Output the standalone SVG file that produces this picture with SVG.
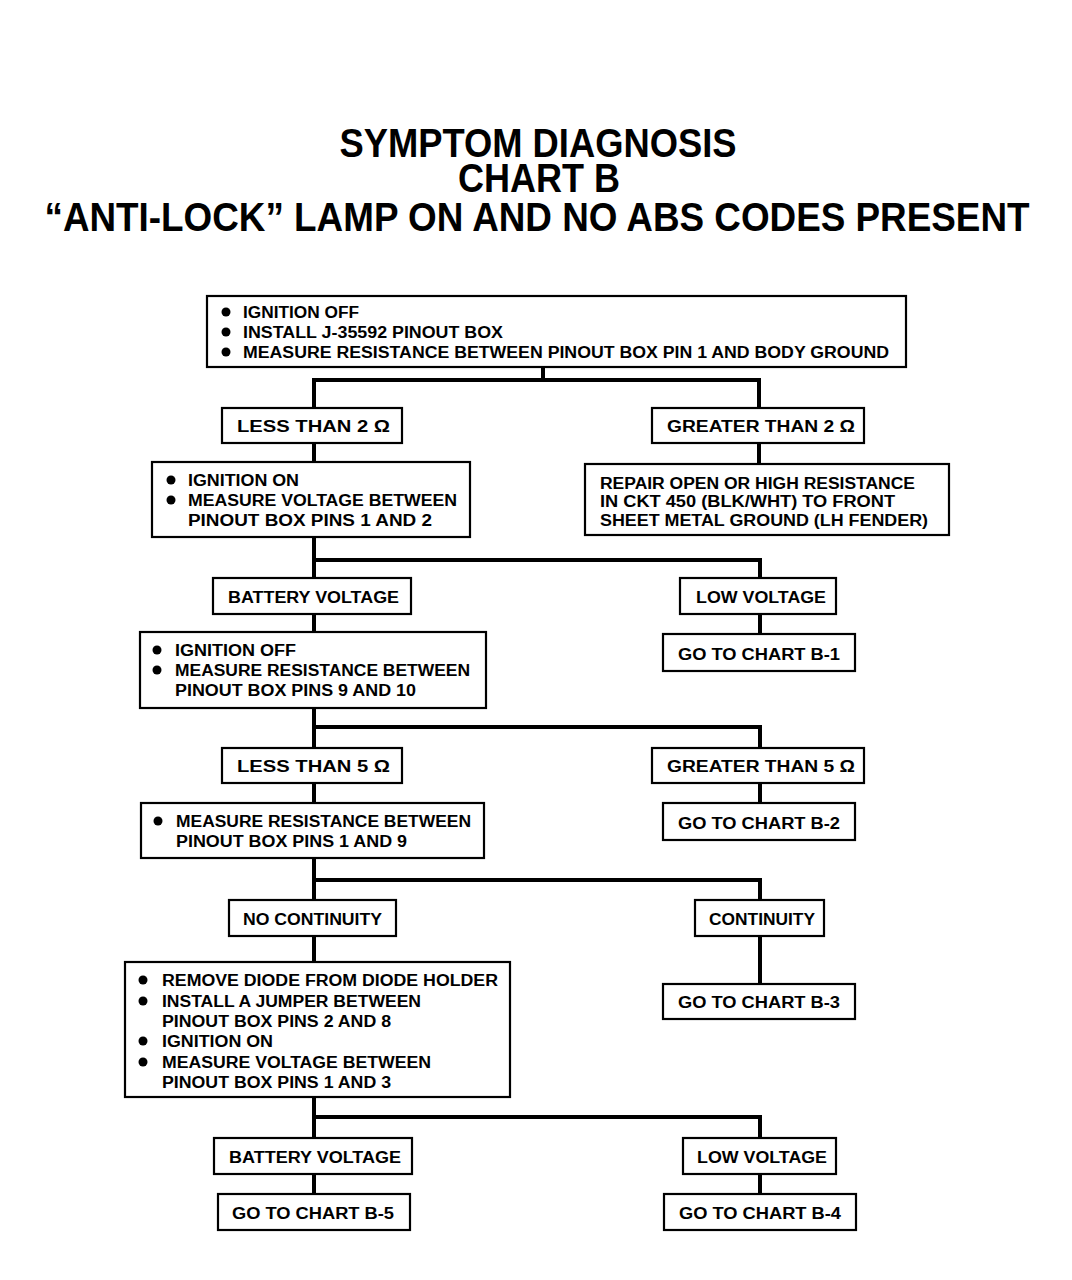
<svg xmlns="http://www.w3.org/2000/svg" width="1072" height="1280" viewBox="0 0 1072 1280">
<style>
.bg{fill:#fff}
.box{fill:#fff;stroke:#000;stroke-width:2.2}
.t{font-family:"Liberation Sans",Arial,sans-serif;font-weight:bold;font-size:16px;fill:#000}
.title{font-family:"Liberation Sans",Arial,sans-serif;font-weight:bold;font-size:40px;fill:#000;text-anchor:middle}
.conn{fill:none;stroke:#000;stroke-width:4;stroke-linejoin:miter}
.b{fill:#000}
</style>
<rect class="bg" x="0" y="0" width="1072" height="1280"/>
<g id="title">
<text class="title" x="538" y="157" textLength="397" lengthAdjust="spacingAndGlyphs">SYMPTOM DIAGNOSIS</text>
<text class="title" x="539" y="192" textLength="162" lengthAdjust="spacingAndGlyphs">CHART B</text>
<text class="title" x="537" y="231" textLength="985" lengthAdjust="spacingAndGlyphs">“ANTI-LOCK” LAMP ON AND NO ABS CODES PRESENT</text>
</g>
<g id="connectors">
<path class="conn" d="M543 367 V380 M314 408 V380 H759 V408"/>
<path class="conn" d="M314 443 V462 M759 443 V464"/>
<path class="conn" d="M314 537 V578 M314 560 H760 V578"/>
<path class="conn" d="M760 614 V634 M314 614 V632"/>
<path class="conn" d="M314 708 V748 M314 727 H760 V748"/>
<path class="conn" d="M314 783 V803 M760 783 V803"/>
<path class="conn" d="M314 858 V900 M314 880 H760 V900"/>
<path class="conn" d="M314 936 V962 M760 936 V984"/>
<path class="conn" d="M314 1097 V1138 M314 1117 H760 V1138"/>
<path class="conn" d="M314 1174 V1194 M760 1174 V1194"/>
</g>
<g id="n1">
<rect class="box" x="207" y="296" width="699" height="71"/>
<circle class="b" cx="226" cy="312" r="4.5"/><circle class="b" cx="226" cy="332" r="4.5"/><circle class="b" cx="226" cy="352" r="4.5"/>
<text class="t" x="243" y="318" textLength="116" lengthAdjust="spacingAndGlyphs">IGNITION OFF</text>
<text class="t" x="243" y="338" textLength="260" lengthAdjust="spacingAndGlyphs">INSTALL J-35592 PINOUT BOX</text>
<text class="t" x="243" y="358" textLength="646" lengthAdjust="spacingAndGlyphs">MEASURE RESISTANCE BETWEEN PINOUT BOX PIN 1 AND BODY GROUND</text>
</g>
<g id="n2">
<rect class="box" x="222" y="408" width="180" height="35"/>
<text class="t" x="237" y="432" textLength="153" lengthAdjust="spacingAndGlyphs">LESS THAN 2 Ω</text>
</g>
<g id="n3">
<rect class="box" x="652" y="408" width="212" height="35"/>
<text class="t" x="667" y="432" textLength="188" lengthAdjust="spacingAndGlyphs">GREATER THAN 2 Ω</text>
</g>
<g id="n4">
<rect class="box" x="152" y="462" width="318" height="75"/>
<circle class="b" cx="171" cy="480" r="4.5"/><circle class="b" cx="171" cy="500" r="4.5"/>
<text class="t" x="188" y="486" textLength="111" lengthAdjust="spacingAndGlyphs">IGNITION ON</text>
<text class="t" x="188" y="506" textLength="269" lengthAdjust="spacingAndGlyphs">MEASURE VOLTAGE BETWEEN</text>
<text class="t" x="188" y="526" textLength="244" lengthAdjust="spacingAndGlyphs">PINOUT BOX PINS 1 AND 2</text>
</g>
<g id="n5">
<rect class="box" x="585" y="464" width="364" height="71"/>
<text class="t" x="600" y="489" textLength="315" lengthAdjust="spacingAndGlyphs">REPAIR OPEN OR HIGH RESISTANCE</text>
<text class="t" x="600" y="507" textLength="295" lengthAdjust="spacingAndGlyphs">IN CKT 450 (BLK/WHT) TO FRONT</text>
<text class="t" x="600" y="526" textLength="328" lengthAdjust="spacingAndGlyphs">SHEET METAL GROUND (LH FENDER)</text>
</g>
<g id="n6">
<rect class="box" x="213" y="578" width="198" height="36"/>
<text class="t" x="228" y="603" textLength="171" lengthAdjust="spacingAndGlyphs">BATTERY VOLTAGE</text>
</g>
<g id="n7">
<rect class="box" x="680" y="578" width="156" height="36"/>
<text class="t" x="696" y="603" textLength="130" lengthAdjust="spacingAndGlyphs">LOW VOLTAGE</text>
</g>
<g id="n8">
<rect class="box" x="663" y="634" width="192" height="37"/>
<text class="t" x="678" y="660" textLength="162" lengthAdjust="spacingAndGlyphs">GO TO CHART B-1</text>
</g>
<g id="n9">
<rect class="box" x="140" y="632" width="346" height="76"/>
<circle class="b" cx="157" cy="650" r="4.5"/><circle class="b" cx="157" cy="670" r="4.5"/>
<text class="t" x="175" y="656" textLength="121" lengthAdjust="spacingAndGlyphs">IGNITION OFF</text>
<text class="t" x="175" y="676" textLength="295" lengthAdjust="spacingAndGlyphs">MEASURE RESISTANCE BETWEEN</text>
<text class="t" x="175" y="696" textLength="241" lengthAdjust="spacingAndGlyphs">PINOUT BOX PINS 9 AND 10</text>
</g>
<g id="n10">
<rect class="box" x="222" y="748" width="180" height="35"/>
<text class="t" x="237" y="772" textLength="153" lengthAdjust="spacingAndGlyphs">LESS THAN 5 Ω</text>
</g>
<g id="n11">
<rect class="box" x="652" y="748" width="212" height="35"/>
<text class="t" x="667" y="772" textLength="188" lengthAdjust="spacingAndGlyphs">GREATER THAN 5 Ω</text>
</g>
<g id="n12">
<rect class="box" x="663" y="803" width="192" height="37"/>
<text class="t" x="678" y="829" textLength="162" lengthAdjust="spacingAndGlyphs">GO TO CHART B-2</text>
</g>
<g id="n13">
<rect class="box" x="141" y="803" width="343" height="55"/>
<circle class="b" cx="158" cy="821" r="4.5"/>
<text class="t" x="176" y="827" textLength="295" lengthAdjust="spacingAndGlyphs">MEASURE RESISTANCE BETWEEN</text>
<text class="t" x="176" y="847" textLength="231" lengthAdjust="spacingAndGlyphs">PINOUT BOX PINS 1 AND 9</text>
</g>
<g id="n14">
<rect class="box" x="229" y="900" width="167" height="36"/>
<text class="t" x="243" y="925" textLength="139" lengthAdjust="spacingAndGlyphs">NO CONTINUITY</text>
</g>
<g id="n15">
<rect class="box" x="695" y="900" width="129" height="36"/>
<text class="t" x="709" y="925" textLength="106" lengthAdjust="spacingAndGlyphs">CONTINUITY</text>
</g>
<g id="n16">
<rect class="box" x="663" y="984" width="192" height="35"/>
<text class="t" x="678" y="1008" textLength="162" lengthAdjust="spacingAndGlyphs">GO TO CHART B-3</text>
</g>
<g id="n17">
<rect class="box" x="125" y="962" width="385" height="135"/>
<circle class="b" cx="143" cy="980" r="4.5"/><circle class="b" cx="143" cy="1001" r="4.5"/><circle class="b" cx="143" cy="1041" r="4.5"/><circle class="b" cx="143" cy="1062" r="4.5"/>
<text class="t" x="162" y="986" textLength="336" lengthAdjust="spacingAndGlyphs">REMOVE DIODE FROM DIODE HOLDER</text>
<text class="t" x="162" y="1007" textLength="259" lengthAdjust="spacingAndGlyphs">INSTALL A JUMPER BETWEEN</text>
<text class="t" x="162" y="1027" textLength="229" lengthAdjust="spacingAndGlyphs">PINOUT BOX PINS 2 AND 8</text>
<text class="t" x="162" y="1047" textLength="111" lengthAdjust="spacingAndGlyphs">IGNITION ON</text>
<text class="t" x="162" y="1068" textLength="269" lengthAdjust="spacingAndGlyphs">MEASURE VOLTAGE BETWEEN</text>
<text class="t" x="162" y="1088" textLength="229" lengthAdjust="spacingAndGlyphs">PINOUT BOX PINS 1 AND 3</text>
</g>
<g id="n18">
<rect class="box" x="214" y="1138" width="198" height="36"/>
<text class="t" x="229" y="1163" textLength="172" lengthAdjust="spacingAndGlyphs">BATTERY VOLTAGE</text>
</g>
<g id="n19">
<rect class="box" x="683" y="1138" width="153" height="36"/>
<text class="t" x="697" y="1163" textLength="130" lengthAdjust="spacingAndGlyphs">LOW VOLTAGE</text>
</g>
<g id="n20">
<rect class="box" x="218" y="1194" width="192" height="36"/>
<text class="t" x="232" y="1219" textLength="162" lengthAdjust="spacingAndGlyphs">GO TO CHART B-5</text>
</g>
<g id="n21">
<rect class="box" x="664" y="1194" width="192" height="36"/>
<text class="t" x="679" y="1219" textLength="162" lengthAdjust="spacingAndGlyphs">GO TO CHART B-4</text>
</g>
</svg>
